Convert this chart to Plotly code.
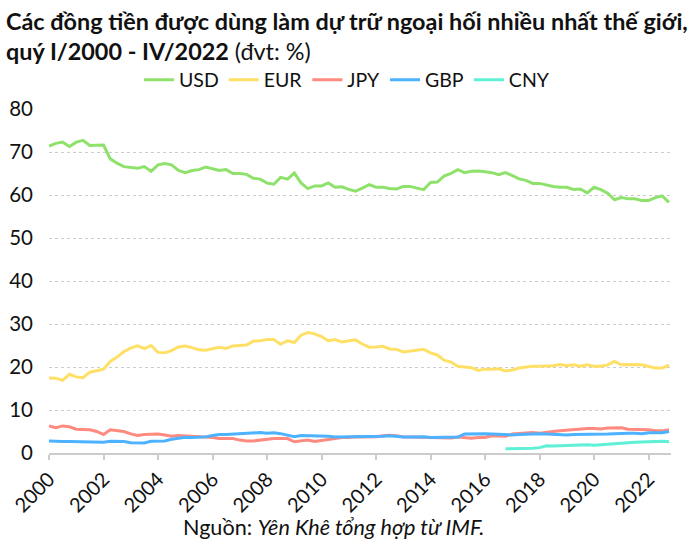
import pandas as pd
import plotly.graph_objects as go

years = list(range(2000, 2023))
quarters = [f"{y}Q{q}" for y in years for q in range(1, 5)]

usd = [71.4, 72.0, 72.3, 71.3, 72.3, 72.7, 71.5, 71.6, 71.6, 68.4, 67.4, 66.6, 66.4, 66.2, 66.6, 65.5,
       67.0, 67.3, 67.0, 65.7, 65.2, 65.7, 65.9, 66.5, 66.1, 65.7, 65.9, 65.0, 65.0, 64.8, 63.9, 63.7,
       62.8, 62.5, 64.1, 63.7, 65.1, 62.8, 61.5, 62.1, 62.1, 62.8, 61.8, 61.9, 61.3, 60.9, 61.6, 62.4,
       61.8, 61.8, 61.5, 61.4, 62.0, 62.0, 61.6, 61.25, 62.9, 63.0, 64.4, 65.0, 65.9, 65.2, 65.5, 65.6,
       65.4, 65.2, 64.7, 65.2, 64.5, 63.75, 63.4, 62.7, 62.7, 62.3, 62.0, 61.8, 61.8, 61.3, 61.4, 60.5,
       61.8, 61.25, 60.4, 58.9, 59.4, 59.1, 59.1, 58.75, 58.7, 59.4, 59.8, 58.3]
eur = [17.45, 17.4, 16.9, 18.3, 17.7, 17.5, 18.8, 19.1, 19.5, 21.3, 22.3, 23.6, 24.4, 24.9, 24.3, 25.0,
       23.4, 23.3, 23.8, 24.65, 24.9, 24.5, 24.0, 23.9, 24.2, 24.6, 24.3, 24.9, 25.0, 25.1, 26.0, 26.1,
       26.4, 26.4, 25.3, 26.1, 25.7, 27.4, 28.0, 27.7, 27.05, 26.1, 26.4, 25.8, 26.1, 26.3, 25.35, 24.6,
       24.65, 24.8, 24.2, 24.1, 23.5, 23.7, 23.95, 24.1, 23.3, 22.8, 21.6, 21.15, 20.15, 20.0, 19.85, 19.2,
       19.5, 19.45, 19.6, 19.1, 19.3, 19.75, 20.0, 20.15, 20.2, 20.2, 20.3, 20.6, 20.3, 20.5, 20.2, 20.5,
       20.15, 20.2, 20.5, 21.3, 20.5, 20.6, 20.6, 20.5, 20.1, 19.75, 19.75, 20.45]
jpy = [6.3, 5.9, 6.3, 6.1, 5.55, 5.4, 5.4, 5.0, 4.3, 5.4, 5.15, 5.0, 4.45, 4.06, 4.3, 4.3,
       4.4, 4.2, 3.9, 4.06, 4.0, 3.9, 3.8, 3.75, 3.6, 3.35, 3.3, 3.35, 3.0, 2.8, 2.8, 3.0,
       3.2, 3.35, 3.35, 3.35, 2.6, 2.8, 3.0, 2.7, 2.9, 3.2, 3.45, 3.6, 3.6, 3.75, 3.7, 3.7,
       3.8, 4.0, 4.15, 4.0, 3.75, 3.75, 3.7, 3.8, 3.6, 3.6, 3.6, 3.5, 3.7, 3.5, 3.45, 3.6,
       3.6, 4.0, 4.0, 3.9, 4.4, 4.5, 4.5, 4.75, 4.6, 4.85, 5.0, 5.15, 5.3, 5.4, 5.55, 5.7,
       5.7, 5.6, 5.8, 5.85, 5.85, 5.55, 5.55, 5.5, 5.4, 5.2, 5.15, 5.4]
gbp = [2.8, 2.65, 2.65, 2.65, 2.65, 2.5, 2.5, 2.65, 2.5, 2.75, 2.75, 2.65, 2.4, 2.4, 2.35, 2.75,
       2.75, 2.8, 3.2, 3.45, 3.65, 3.6, 3.65, 3.75, 4.06, 4.3, 4.3, 4.4, 4.5, 4.6, 4.75, 4.75,
       4.6, 4.7, 4.5, 4.06, 3.8, 4.06, 4.06, 4.06, 4.0, 3.9, 3.75, 3.75, 3.9, 3.8, 3.75, 3.75,
       3.8, 3.9, 4.0, 3.8, 3.75, 3.7, 3.75, 3.8, 3.6, 3.6, 3.6, 3.6, 3.7, 4.4, 4.45, 4.5,
       4.45, 4.4, 4.3, 4.2, 4.2, 4.3, 4.4, 4.4, 4.45, 4.4, 4.3, 4.2, 4.2, 4.3, 4.3, 4.4,
       4.45, 4.4, 4.4, 4.5, 4.6, 4.6, 4.6, 4.5, 4.7, 4.75, 4.7, 5.0]
cny = [None] * 67 + [1.0, 1.0, 1.0, 1.0, 1.1, 1.25, 1.7, 1.65, 1.7, 1.8, 1.9, 1.8, 1.9, 1.8, 1.95,
                     2.0, 2.1, 2.25, 2.4, 2.5, 2.6, 2.65, 2.75, 2.75, 2.6]

series_names = ["USD", "EUR", "JPY", "GBP", "CNY"]
series_values = [usd, eur, jpy, gbp, cny]
series_colors = ["#8ee26b", "#ffe066", "#ff8a80", "#4db2ff", "#5ff0d6"]

x = pd.PeriodIndex(quarters, freq="Q").to_timestamp()

fig = go.Figure()
for name, vals, col in zip(series_names, series_values, series_colors):
    fig.add_trace(go.Scatter(x=x, y=vals, name=name, mode="lines",
                             line=dict(color=col, width=3)))

font = "Lato, 'Open Sans', sans-serif"
plot_left, plot_right = 49.3, 670.7
plot_top, plot_bottom = 109, 452.7
pw = plot_right - plot_left
ph = plot_bottom - plot_top


def px(pix):
    return (pix - plot_left) / pw


def py(pix):
    return (plot_bottom - pix) / ph


fig.update_layout(
    width=700, height=545,
    margin=dict(l=plot_left, r=700 - plot_right, t=plot_top, b=545 - plot_bottom,
                autoexpand=False),
    paper_bgcolor="white", plot_bgcolor="white",
    font=dict(family=font, color="#111", size=20),
    legend=dict(orientation="h", x=px(347), xanchor="center", y=py(80),
                yanchor="middle", font=dict(size=19.5),
                itemwidth=30, tracegroupgap=0),
    showlegend=True,
    annotations=[
        dict(text="<b>Các đồng tiền được dùng làm dự trữ ngoại hối nhiều nhất thế giới,</b><br>"
                  "<b>quý I/2000 - IV/2022</b> (đvt: %)",
             x=px(4), xref="paper", xanchor="left", align="left",
             y=py(5), yref="paper", yanchor="top",
             showarrow=False, font=dict(size=23.4, family=font, color="#111")),
        dict(text="Nguồn: <i>Yên Khê tổng hợp từ IMF.</i>",
             x=px(334), xref="paper", xanchor="center",
             y=py(527), yref="paper", yanchor="middle",
             showarrow=False, font=dict(size=21.6, family=font)),
    ],
)
fig.update_xaxes(
    type="date",
    range=["2000-01-01", "2022-10-28"],
    tickvals=[pd.Timestamp(f"{y}-01-01") for y in years[::2]],
    ticktext=[str(y) for y in years[::2]],
    tickangle=-45, tickfont=dict(size=20),
    showgrid=False, showline=True, linecolor="#cccccc", linewidth=1.5,
    ticks="outside", ticklen=5, tickcolor="#cccccc", tickwidth=1.5,
    zeroline=False, automargin=False,
)
fig.update_yaxes(
    range=[0, 80], dtick=10, tickfont=dict(size=20.5),
    showgrid=True, gridcolor="#cccccc", griddash="dot", gridwidth=1,
    zeroline=False, showline=False, ticks="", ticklabelstandoff=15,
    automargin=False,
)
fig.write_html("out.html", config={"displayModeBar": False},
               post_script="document.body.style.margin='0';")
